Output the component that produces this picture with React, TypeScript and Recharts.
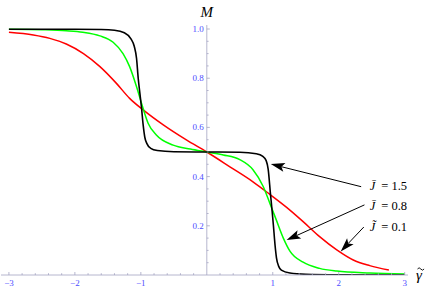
import { LineChart, Line, XAxis, YAxis, ReferenceLine, ReferenceDot } from "recharts";

// J = 0.1 (red)
const redGamma = [-3, -2.63, -2.38, -2.13, -1.87, -1.62, -1.37, -1.17, -0.965, -0.66, -0.31, 0, 0.35, 0.7, 0.955, 1.21, 1.46, 1.71, 1.97, 2.22, 2.47, 2.76];
const redM = [0.987, 0.976, 0.962, 0.939, 0.9, 0.847, 0.779, 0.718, 0.671, 0.61, 0.549, 0.5, 0.44, 0.379, 0.328, 0.275, 0.217, 0.156, 0.102, 0.061, 0.038, 0.02];

// J = 0.8 (green)
const greenGamma = [-3, -2.5, -2.13, -1.88, -1.62, -1.42, -1.27, -1.17, -1.065, -0.99, -0.89, -0.765, -0.51, -0.25, 0, 0.25, 0.5, 0.7, 0.855, 0.955, 1.056, 1.16, 1.26, 1.46, 1.71, 1.97, 2.47, 3];
const greenM = [0.999, 0.997, 0.993, 0.987, 0.972, 0.946, 0.9, 0.847, 0.765, 0.698, 0.617, 0.569, 0.528, 0.512, 0.5, 0.488, 0.469, 0.428, 0.36, 0.292, 0.222, 0.15, 0.097, 0.052, 0.027, 0.016, 0.008, 0.004];

// J = 1.5 (black)
const blackGamma = [-3, -2, -1.6, -1.4, -1.25, -1.15, -1.1, -1.065, -1.04, -1.015, -0.99, -0.965, -0.94, -0.91, -0.85, -0.75, -0.5, 0, 0.5, 0.75, 0.85, 0.9, 0.93, 0.965, 0.99, 1.01, 1.035, 1.056, 1.09, 1.13, 1.26, 1.5, 2, 3];
const blackM = [0.999, 0.999, 0.998, 0.995, 0.985, 0.96, 0.93, 0.88, 0.8, 0.74, 0.68, 0.61, 0.56, 0.535, 0.515, 0.506, 0.501, 0.5, 0.499, 0.493, 0.482, 0.465, 0.43, 0.33, 0.26, 0.2, 0.12, 0.07, 0.035, 0.02, 0.008, 0.003, 0.001, 0];

const xTickLabels = [-3, -2, -1, 1, 2, 3];
const yTickLabels = [0.2, 0.4, 0.6, 0.8, 1.0];

const toPoints = (g: number[], m: number[]) => g.map((v, i) => ({ g: v, m: m[i] }));
const redData = toPoints(redGamma, redM);
const greenData = toPoints(greenGamma, greenM);
const blackData = toPoints(blackGamma, blackM);

// minor ticks: every 0.2 on x, every 0.05 on y
const xMinor: number[] = [];
for (let i = -15; i <= 15; i++) xMinor.push(Math.round(i * 2) / 10);
const yMinor: number[] = [];
for (let i = 1; i <= 20; i++) yMinor.push(Math.round(i * 5) / 100);

const W = 430;
const H = 288;
const YAXIS_W = 1;
const MARGIN = { top: 25, right: 22, bottom: 0, left: 0 };
const X_DOMAIN: [number, number] = [-3.12, 3.05];
const Y_DOMAIN: [number, number] = [0, 1.0163];
const XAXIS_H = 13;
const AXIS_Y = H - MARGIN.bottom - XAXIS_H;
const PLOT_L = MARGIN.left + YAXIS_W;
const PLOT_W = W - PLOT_L - MARGIN.right;
const ZERO_X = PLOT_L + ((0 - X_DOMAIN[0]) / (X_DOMAIN[1] - X_DOMAIN[0])) * PLOT_W;

const AXIS = "#a3a3c2";
const LABEL = "#4d4dff";
const SERIF = '"Liberation Serif", "DejaVu Serif", serif';
const serif = { fontFamily: SERIF };

const near = (v: number, list: number[]) => list.some((t) => Math.abs(t - v) < 1e-6);

function XTick(props: any) {
  const { x, payload } = props;
  const v = payload.value;
  if (Math.abs(v) < 1e-6) return <g />;
  const major = near(v, xTickLabels);
  return (
    <g>
      <line x1={x} x2={x} y1={AXIS_Y} y2={AXIS_Y - (major ? 3 : 1.8)} stroke={AXIS} strokeWidth={0.8} />
      {major && (
        <text x={x} y={AXIS_Y + 11} textAnchor="middle" fontSize={9} style={serif} fill={LABEL}>
          {v < 0 ? `\u2212${Math.abs(v)}` : v}
        </text>
      )}
    </g>
  );
}

function YTick(props: any) {
  const { y, payload } = props;
  const v = payload.value;
  const major = near(v, yTickLabels);
  return (
    <g>
      <line x1={ZERO_X} x2={ZERO_X + (major ? 3 : 1.8)} y1={y} y2={y} stroke={AXIS} strokeWidth={0.8} />
      {major && (
        <text x={ZERO_X - 3} y={y + 3} textAnchor="end" fontSize={9} style={serif} fill={LABEL}>
          {v.toFixed(1)}
        </text>
      )}
    </g>
  );
}

function Arrow(p: any) {
  const { x1, y1, x2, y2 } = p;
  const dx = x2 - x1;
  const dy = y2 - y1;
  const len = Math.hypot(dx, dy) || 1;
  const ux = dx / len;
  const uy = dy / len;
  const L = 14;
  const Wd = 4.5;
  const bx = x2 - ux * L;
  const by = y2 - uy * L;
  const nx = bx + ux * 3;
  const ny = by + uy * 3;
  const pts = [
    [x2, y2],
    [bx - uy * Wd, by + ux * Wd],
    [nx, ny],
    [bx + uy * Wd, by - ux * Wd],
  ]
    .map((q) => q.join(","))
    .join(" ");
  return (
    <g>
      <line x1={x1} y1={y1} x2={nx} y2={ny} stroke="#000" strokeWidth={1} />
      <polygon points={pts} fill="#000" />
    </g>
  );
}

const annotations = [
  { mark: "\u0304", value: "1.5", text: [2.47, 0.345], from: [2.34, 0.359], tip: [0.97, 0.451] },
  { mark: "\u0304", value: "0.8", text: [2.47, 0.264], from: [2.39, 0.285], tip: [1.21, 0.142] },
  { mark: "\u0303", value: "0.1", text: [2.47, 0.179], from: [2.38, 0.195], tip: [2.03, 0.096] },
];

export default function App() {
  return (
    <div style={{ position: "absolute", left: 0, top: 0, width: W, height: H, background: "#fff" }}>
      <LineChart width={W} height={H} margin={MARGIN}>
        <XAxis
          type="number"
          dataKey="g"
          domain={X_DOMAIN}
          allowDataOverflow
          ticks={xMinor}
          interval={0}
          height={XAXIS_H}
          tickLine={false}
          axisLine={{ stroke: AXIS, strokeWidth: 0.8 }}
          tick={<XTick />}
        />
        <YAxis
          type="number"
          dataKey="m"
          domain={Y_DOMAIN}
          allowDataOverflow
          ticks={yMinor}
          interval={0}
          width={YAXIS_W}
          tickLine={false}
          axisLine={false}
          tick={<YTick />}
        />
        <ReferenceLine x={0} stroke={AXIS} strokeWidth={0.8} />
        <Line data={redData} dataKey="m" type="monotone" stroke="#ff0000" strokeWidth={1.5} dot={false} isAnimationActive={false} />
        <Line data={greenData} dataKey="m" type="monotone" stroke="#00ff00" strokeWidth={1.5} dot={false} isAnimationActive={false} />
        <Line data={blackData} dataKey="m" type="monotone" stroke="#000000" strokeWidth={1.6} dot={false} isAnimationActive={false} />
        {annotations.map((a) => (
          <ReferenceLine
            key={a.value}
            segment={[
              { x: a.from[0], y: a.from[1] },
              { x: a.tip[0], y: a.tip[1] },
            ]}
            ifOverflow="visible"
            shape={<Arrow />}
          />
        ))}
        {annotations.map((a) => (
          <ReferenceDot
            key={`t${a.value}`}
            x={a.text[0]}
            y={a.text[1]}
            r={0}
            ifOverflow="visible"
            shape={(p: any) => (
              <text x={p.cx} y={p.cy} fontSize={12.5} style={serif} fill="#000">
                <tspan fontStyle="italic">{`J${a.mark}`}</tspan>
                <tspan dx={6}>{`= ${a.value}`}</tspan>
              </text>
            )}
          />
        ))}
        <text x={ZERO_X} y={17} textAnchor="middle" fontSize={15} fontStyle="italic" style={serif} fill="#000">
          M
        </text>
        <text x={416} y={280} fontSize={15} fontStyle="italic" style={serif} fill="#000">
          {"\u03b3"}
        </text>
        <path d="M417.5,269 q1.6,-2.4 3.3,0 t3.3,0" fill="none" stroke="#000" strokeWidth={0.9} />
      </LineChart>
    </div>
  );
}
